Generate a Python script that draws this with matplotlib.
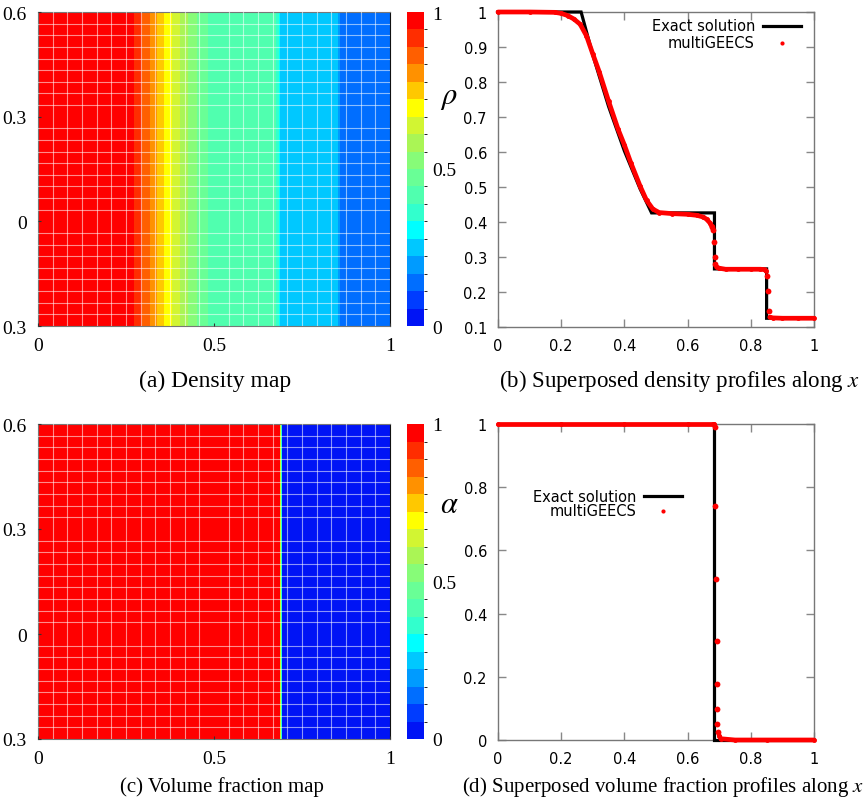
import numpy as np
import matplotlib
matplotlib.use('Agg')
import matplotlib.pyplot as plt
from matplotlib.colors import ListedColormap, BoundaryNorm
from matplotlib.ticker import FuncFormatter

plt.rcParams['mathtext.fontset'] = 'stix'
plt.rcParams['font.family'] = ['DejaVu Sans']

# ---------------- data ----------------
# Exact density (Sod problem)
rho_exact_x = [0.0, 0.263, 0.30, 0.35, 0.40, 0.45, 0.486, 0.685, 0.685, 0.850, 0.850, 1.0]
rho_exact = [1.0, 1.0, 0.877, 0.730, 0.603, 0.494, 0.426, 0.426, 0.266, 0.266, 0.125, 0.125]

# multiGEECS density, continuous parts
rho_left_x = [0.0, 0.10, 0.18, 0.20, 0.22, 0.24, 0.26, 0.28, 0.30, 0.32, 0.35, 0.38, 0.40,
              0.42, 0.45, 0.47, 0.49, 0.51, 0.55, 0.60, 0.63, 0.65, 0.66, 0.67, 0.676]
rho_left = [1.0, 1.0, 0.999, 0.996, 0.99, 0.98, 0.965, 0.932, 0.88, 0.83, 0.745, 0.665, 0.62,
            0.57, 0.502, 0.462, 0.437, 0.427, 0.424, 0.422, 0.419, 0.414, 0.408, 0.398, 0.388]
rho_mid_x = [0.6915, 0.70, 0.72, 0.76, 0.80, 0.83, 0.845, 0.849]
rho_mid = [0.271, 0.268, 0.265, 0.265, 0.265, 0.265, 0.264, 0.26]
rho_right_x = [0.86, 0.87, 0.90, 0.95, 1.0]
rho_right = [0.128, 0.126, 0.125, 0.125, 0.125]
# multiGEECS density, isolated cells inside the jumps
rho_dots_x = [0.678, 0.680, 0.685, 0.686, 0.687, 0.850, 0.8555, 0.8576]
rho_dots = [0.385, 0.377, 0.342, 0.301, 0.281, 0.247, 0.202, 0.147]

# Exact volume fraction
alpha_exact_x = [0.0, 0.685, 0.685, 1.0]
alpha_exact = [1.0, 1.0, 0.0, 0.0]
# multiGEECS volume fraction
alpha_left_x = [0.0, 0.2, 0.4, 0.6, 0.68, 0.685]
alpha_left = [1.0, 1.0, 1.0, 1.0, 1.0, 1.0]
alpha_dots_x = [0.687, 0.6877, 0.6905, 0.692, 0.6926, 0.6929, 0.694, 0.6955]
alpha_dots = [0.99, 0.741, 0.51, 0.312, 0.177, 0.098, 0.051, 0.026]
alpha_right_x = [0.70, 0.705, 0.75, 0.85, 1.0]
alpha_right = [0.014, 0.004, 0.0, 0.0, 0.0]

map_y_ticks = [-0.3, 0.0, 0.3, 0.6]
map_y_labels = ['0.3', '0', '0.3', '0.6']
map_x_ticks = [0, 0.5, 1]
map_x_labels = ['0', '0.5', '1']
cbar_ticks = [0, 0.5, 1]
profile_x_ticks = [0, 0.2, 0.4, 0.6, 0.8, 1.0]
rho_y_ticks = [0.1, 0.2, 0.3, 0.4, 0.5, 0.6, 0.7, 0.8, 0.9, 1.0]
alpha_y_ticks = [0, 0.2, 0.4, 0.6, 0.8, 1.0]

# ---------------- style ----------------
level_colors = [
    (0, 20, 245), (0, 60, 255), (0, 110, 255), (0, 155, 255), (0, 200, 255),
    (0, 255, 255), (50, 255, 205), (80, 255, 175), (105, 255, 150), (135, 252, 120),
    (170, 245, 85), (210, 245, 50), (255, 255, 0), (255, 200, 0), (255, 145, 0),
    (255, 95, 0), (255, 45, 0), (255, 0, 0)]
cmap = ListedColormap([tuple(c / 255 for c in col) for col in level_colors])
levels = np.linspace(0, 1, len(level_colors) + 1)
norm = BoundaryNorm(levels, cmap.N)

SERIF = 'Liberation Serif'
W, H = 867, 803
fig = plt.figure(figsize=(W / 100, H / 100), dpi=100)


def fa(x0, y0, x1, y1):
    return [x0 / W, 1 - y1 / H, (x1 - x0) / W, (y1 - y0) / H]


fmt = FuncFormatter(lambda v, p: f'{v:g}')


def draw_map(ax_rect, cax_rect, xs, vals, symbol, sym_y):
    ax = fig.add_axes(fa(*ax_rect))
    ys = np.array([-0.3, 0.6])
    X, Y = np.meshgrid(np.asarray(xs), ys)
    Z = np.tile(np.asarray(vals), (2, 1))
    cf = ax.contourf(X, Y, Z, levels=levels, cmap=cmap, norm=norm, antialiased=True)
    ax.set_xlim(0, 1)
    ax.set_ylim(-0.3, 0.6)
    ax.set_xticks(map_x_ticks)
    ax.set_xticklabels(map_x_labels, fontfamily=SERIF, fontsize=14)
    ax.set_yticks(map_y_ticks)
    ax.set_yticklabels(map_y_labels, fontfamily=SERIF, fontsize=14)
    ax.set_xticks(np.linspace(0, 1, 25), minor=True)
    ax.set_yticks(np.linspace(-0.3, 0.6, 28), minor=True)
    ax.grid(which='minor', color='white', alpha=0.55, lw=0.8)
    ax.set_axisbelow(False)
    ax.tick_params(which='minor', length=0)
    ax.tick_params(which='major', direction='in', length=2, pad=8, color='#333')
    for s in ax.spines.values():
        s.set_color('#777')
        s.set_linewidth(0.8)
    ax.spines['right'].set_color('#111')
    cax = fig.add_axes(fa(*cax_rect))
    cb = fig.colorbar(cf, cax=cax, ticks=cbar_ticks, format=fmt)
    cb.outline.set_visible(False)
    cax.tick_params(length=0, pad=6)
    for t in cax.get_yticklabels():
        t.set_fontfamily(SERIF)
        t.set_fontsize(14)
    fig.text(449 / W, 1 - sym_y / H, symbol, fontsize=22, ha='center', va='center')
    return ax


def draw_profile(ax_rect, ylim, yticks, exact_x, exact, segs, dots_x, dots, leg):
    ax = fig.add_axes(fa(*ax_rect))
    ax.plot(exact_x, exact, color='black', lw=2.3, clip_on=False, zorder=3,
            solid_joinstyle='miter')
    for sx, sy in segs:
        ax.plot(sx, sy, color='red', lw=3.4, marker='o', ms=3.5, mew=0,
                clip_on=False, zorder=4, solid_capstyle='round')
    ax.plot(dots_x, dots, 'o', color='red', ms=4.2, mew=0, clip_on=False, zorder=4)
    ax.set_xlim(0, 1)
    ax.set_ylim(*ylim)
    ax.set_xticks(profile_x_ticks)
    ax.set_yticks(yticks)
    ax.xaxis.set_major_formatter(fmt)
    ax.yaxis.set_major_formatter(fmt)
    ax.tick_params(direction='in', length=6, width=1, color='#888', top=True, right=True,
                   labelsize=10.5, pad=8)
    for s in ax.spines.values():
        s.set_color('#777')
        s.set_linewidth(1.0)
    tx, ty1, ty2, lx0, lx1, dx = leg
    ax.text(tx, ty1, 'Exact solution', transform=ax.transAxes, ha='right', va='center',
            fontsize=10.5)
    ax.text(tx, ty2, 'multiGEECS', transform=ax.transAxes, ha='right', va='center',
            fontsize=10.5)
    ax.plot([lx0, lx1], [ty1, ty1], color='black', lw=2.3, transform=ax.transAxes)
    ax.plot([dx], [ty2], 'o', color='red', ms=3, mew=0, transform=ax.transAxes)
    return ax


# full profiles for the maps
rho_all_x = np.concatenate([rho_left_x, rho_dots_x, rho_mid_x, rho_right_x])
rho_all = np.concatenate([rho_left, rho_dots, rho_mid, rho_right])
o = np.argsort(rho_all_x, kind='stable')
rho_all_x, rho_all = rho_all_x[o], rho_all[o]

alpha_all_x = np.concatenate([alpha_left_x, alpha_dots_x, alpha_right_x])
alpha_all = np.concatenate([alpha_left, alpha_dots, alpha_right])
o = np.argsort(alpha_all_x, kind='stable')
alpha_all_x, alpha_all = alpha_all_x[o], alpha_all[o]

draw_map((38, 13, 390, 327), (407, 13, 424, 327), rho_all_x, rho_all, r'$\rho$', 97)
draw_map((38, 425, 390, 740), (407, 425, 424, 740), alpha_all_x, alpha_all, r'$\alpha$', 505)

draw_profile((498, 13, 814, 328), (0.1, 1.0), rho_y_ticks, rho_exact_x, rho_exact,
             [(rho_left_x, rho_left), (rho_mid_x, rho_mid), (rho_right_x, rho_right)],
             rho_dots_x, rho_dots,
             (0.813, 0.956, 0.902, 0.839, 0.959, 0.899))
draw_profile((498, 425, 814, 741), (0.0, 1.0), alpha_y_ticks, alpha_exact_x, alpha_exact,
             [(alpha_left_x, alpha_left), (alpha_right_x, alpha_right)],
             alpha_dots_x, alpha_dots,
             (0.437, 0.772, 0.725, 0.462, 0.582, 0.522))

cap = dict(fontfamily=SERIF, ha='center', va='center')
fig.text(215 / W, 1 - 381 / H, '(a) Density map', fontsize=17, **cap)
fig.text(679 / W, 1 - 381 / H, r'(b) Superposed density profiles along $x$', fontsize=16.5, **cap)
fig.text(222 / W, 1 - 787 / H, '(c) Volume fraction map', fontsize=15, **cap)
fig.text(663 / W, 1 - 787 / H, r'(d) Superposed volume fraction profiles along $x$',
         fontsize=15, **cap)

fig.savefig('out.png', dpi=100)
